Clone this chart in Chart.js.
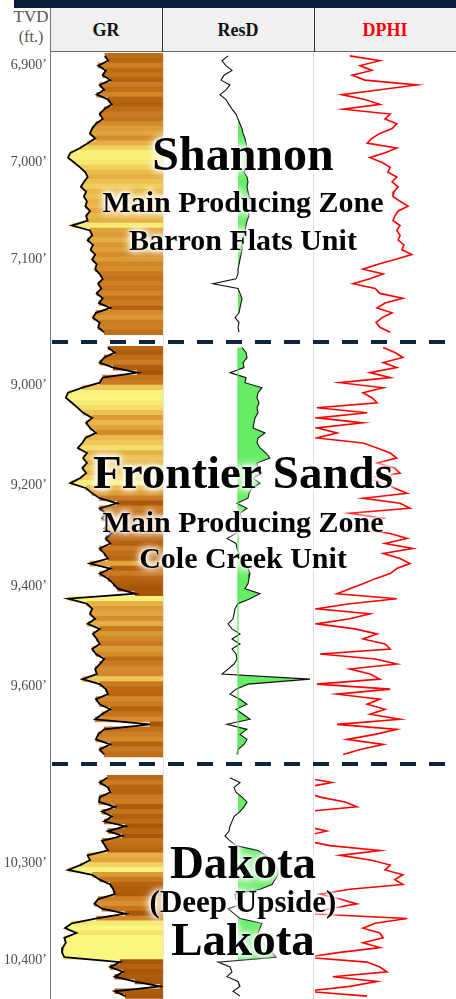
<!DOCTYPE html>
<html>
<head>
<meta charset="utf-8">
<title>Well log - Shannon / Frontier / Dakota</title>
<script src="https://cdn.jsdelivr.net/npm/chart.js@4.4.1/dist/chart.umd.min.js"></script>
<style>
  html, body { margin: 0; padding: 0; background: #fff; }
  #page { position: relative; width: 456px; height: 999px; overflow: hidden; font-family: "Liberation Serif", "Times New Roman", serif; }
  #page div { position: absolute; }
  canvas { position: absolute; display: block; z-index: 2; }
  .vline { z-index: 1; }
  .hcell { top: 8px; height: 43px; line-height: 45px; text-align: center; font-weight: bold; font-size: 18px; color: #111; }
  .dash { left: 52px; width: 404px; height: 4px; z-index: 4;
          background: repeating-linear-gradient(to right, #0e2542 0 16px, transparent 16px 29px); }
  .zone { left: 0; width: 486px; text-align: center; font-weight: bold; color: #050505; line-height: 1; white-space: nowrap; z-index: 5;
          text-shadow: 0 0 2px #fff, 0 0 4px #fff, 0 0 6px #fff, 0 0 9px #fff, 0 0 12px #fff; }
</style>
</head>
<body>
<div id="page">
  <div style="left:14px;top:0;width:442px;height:8px;background:#061c3a"></div>
  <div style="left:50px;top:8px;width:406px;height:43px;background:#f0f0f0;border-bottom:1.5px solid #6a6a6a"></div>
  <div style="left:0;top:7px;width:62px;text-align:center;font-size:17px;color:#555">TVD</div>
  <div style="left:0;top:28px;width:62px;text-align:center;font-size:16px;color:#555">(ft.)</div>
  <div class="hcell" style="left:50px;width:112px">GR</div>
  <div class="hcell" style="left:162px;width:152px">ResD</div>
  <div class="hcell" style="left:314px;width:142px;color:#ff0000">DPHI</div>
  <div style="left:162px;top:8px;width:1px;height:44px;background:#333"></div>
  <div style="left:314px;top:8px;width:1px;height:44px;background:#333"></div>

  <div class="vline" style="left:50px;top:8px;width:1px;height:991px;background:#6b7480"></div>
  <div class="vline" style="left:163px;top:52px;width:1px;height:947px;background:#e6e6e6"></div>
  <div class="vline" style="left:313px;top:52px;width:1px;height:947px;background:#dadada"></div>

  <div class="dash" style="top:340px"></div>
  <div class="dash" style="top:762px"></div>

  <div class="zone" style="top:130px;font-size:48px">Shannon</div>
  <div class="zone" style="top:187px;font-size:30px">Main Producing Zone</div>
  <div class="zone" style="top:225px;font-size:30px">Barron Flats Unit</div>
  <div class="zone" style="top:449px;font-size:47px">Frontier Sands</div>
  <div class="zone" style="top:507px;font-size:30px">Main Producing Zone</div>
  <div class="zone" style="top:543px;font-size:30px">Cole Creek Unit</div>
  <div class="zone" style="top:839px;font-size:47px">Dakota</div>
  <div class="zone" style="top:886px;font-size:31px">(Deep Upside)</div>
  <div class="zone" style="top:916px;font-size:47px">Lakota</div>
</div>

<script>
// ---- log data (one sample per step) ----

// Shannon, 6,890' - 7,175', 5 ft samples
const SHANNON_START = 6890;
const SHANNON_STEP = 5;
const SHANNON_TICKS = [6900, 7000, 7100];
const SHANNON_GR = [73, 77, 64, 74, 70, 80, 66, 72, 62, 77, 82, 72, 66, 70, 61, 56, 53, 60, 50, 40,
  27, 24, 32, 40, 47, 50, 45, 41, 48, 45, 49, 47, 53, 48, 50, 29, 53, 56, 50, 57,
  54, 60, 56, 62, 60, 66, 70, 64, 68, 62, 70, 65, 80, 61, 57, 66, 64, 72];
const SHANNON_RESD = [65, 59, 63, 69, 61, 58, 67, 63, 57, 63, 66, 69, 73, 75, 77, 79, 80, 82, 83, 84,
  83, 82, 82, 83, 81, 84, 85, 84, 85, 86, 87, 87, 85, 86, 84, 83, 82, 81, 80, 79,
  79, 78, 77, 76, 75, 75, 73, 50, 75, 77, 79, 78, 77, 76, 72, 76, 75, 76];
const SHANNON_DPHI = [0.226, 0.162, 0.204, 0.179, 0.221, 0.194, 0.083, 0.162, 0.243, 0.194,
  0.162, 0.240, 0.140, 0.151, 0.126, 0.136, 0.162, 0.179, 0.189, 0.126,
  0.151, 0.183, 0.157, 0.140, 0.145, 0.126, 0.136, 0.123, 0.132, 0.134,
  0.119, 0.102, 0.123, 0.130, 0.134, 0.119, 0.126, 0.119, 0.123, 0.111,
  0.115, 0.094, 0.130, 0.166, 0.198, 0.155, 0.183, 0.219, 0.172, 0.162,
  0.113, 0.151, 0.168, 0.136, 0.157, 0.170, 0.162, 0.140];

// Frontier Sands, 8,925' - 9,735', 10 ft samples
const FRONTIER_START = 8925;
const FRONTIER_STEP = 10;
const FRONTIER_TICKS = [9000, 9200, 9400, 9600];
const FRONTIER_GR = [77, 86, 72, 66, 84, 116, 70, 66, 43, 24, 21, 29, 37, 44, 56, 48, 53, 61, 47, 43,
  37, 49, 44, 49, 43, 48, 40, 27, 48, 56, 66, 89, 66, 74, 69, 80, 72, 82, 74, 80,
  66, 72, 77, 53, 80, 66, 77, 84, 90, 113, 24, 49, 56, 53, 60, 50, 66, 57, 62, 66,
  56, 61, 72, 66, 60, 62, 43, 66, 74, 77, 61, 66, 80, 69, 60, 133, 72, 64, 61, 80, 66, 72];
const FRONTIER_RESD = [79, 83, 84, 80, 81, 67, 83, 82, 99, 95, 94, 96, 94, 95, 92, 91, 90, 102, 95, 94,
  97, 103, 107, 94, 95, 99, 90, 97, 89, 86, 85, 74, 84, 77, 79, 76, 75, 73, 64, 73,
  74, 76, 79, 82, 85, 87, 86, 85, 82, 97, 87, 75, 72, 71, 70, 65, 69, 77, 69, 77,
  69, 73, 74, 71, 65, 59, 147, 85, 73, 67, 77, 84, 73, 80, 87, 64, 84, 77, 84, 81, 75, 74];
const FRONTIER_DPHI = [0.155, 0.130, 0.113, 0.155, 0.126, 0.183, 0.140, 0.247, 0.155, 0.198,
  0.179, 0.168, 0.296, 0.189, 0.296, 0.198, 0.296, 0.253, 0.296, 0.198,
  0.168, 0.140, 0.126, 0.168, 0.130, 0.119, 0.189, 0.151, 0.130, 0.104,
  0.198, 0.119, 0.098, 0.226, 0.155, 0.189, 0.211, 0.140, 0.104, 0.151,
  0.092, 0.155, 0.119, 0.098, 0.126, 0.140, 0.172, 0.198, 0.226, 0.253,
  0.126, 0.226, 0.296, 0.183, 0.226, 0.296, 0.215, 0.168, 0.198, 0.151,
  0.140, 0.289, 0.172, 0.126, 0.226, 0.183, 0.162, 0.296, 0.140, 0.253,
  0.162, 0.189, 0.151, 0.183, 0.119, 0.253, 0.126, 0.172, 0.232, 0.155, 0.204, 0.240];

// Dakota / Lakota, 10,212' - 10,437', 5 ft samples
const DAKOTA_START = 10212;
const DAKOTA_STEP = 5;
const DAKOTA_TICKS = [10300, 10400];
const DAKOTA_GR = [76, 66, 77, 80, 66, 65, 86, 69, 82, 72, 100, 77, 96, 69, 73, 77, 50, 53, 40, 24,
  56, 66, 80, 84, 86, 64, 59, 69, 100, 62, 29, 20, 35, 19, 21, 17, 16, 19, 93, 80,
  97, 86, 113, 146, 86, 100];
const DAKOTA_RESD = [67, 77, 71, 73, 79, 84, 81, 77, 71, 69, 67, 66, 62, 67, 73, 95, 103, 109, 113, 115,
  115, 112, 109, 97, 72, 73, 80, 65, 71, 77, 99, 97, 95, 94, 99, 105, 109, 113, 55, 67,
  69, 64, 75, 77, 70, 77];
const DAKOTA_DPHI = [0.32, 0.264, 0.32, 0.32, 0.289, 0.236, 0.211, 0.32, 0.32, 0.32,
  0.32, 0.275, 0.32, 0.32, 0.268, 0.162, 0.247, 0.179, 0.140, 0.151,
  0.113, 0.130, 0.113, 0.226, 0.289, 0.247, 0.211, 0.268, 0.32, 0.104,
  0.172, 0.198, 0.162, 0.155, 0.198, 0.162, 0.247, 0.32, 0.189, 0.162,
  0.147, 0.262, 0.168, 0.226, 0.32, 0.189];

// track scales
const GR_MAX = 150;
const RESD_MAX = 152;
const RESD_CUTOFF = 75;
const DPHI_MAX = 0.3;

// GR fill: yellow for clean sand, brown for shale
const GR_COLOR_STOPS = [
  [20, [250, 246, 128]],
  [35, [246, 228, 110]],
  [45, [236, 192, 80]],
  [55, [222, 158, 56]],
  [65, [204, 124, 34]],
  [75, [188, 104, 20]],
  [90, [168, 86, 10]]
];

function grColor(v) {
  const s = GR_COLOR_STOPS;
  if (v <= s[0][0]) return 'rgb(' + s[0][1].join(',') + ')';
  for (let i = 1; i < s.length; i++) {
    if (v <= s[i][0]) {
      const t = (v - s[i - 1][0]) / (s[i][0] - s[i - 1][0]);
      const c = s[i][1].map((c1, k) => Math.round(s[i - 1][1][k] + (c1 - s[i - 1][1][k]) * t));
      return 'rgb(' + c.join(',') + ')';
    }
  }
  return 'rgb(' + s[s.length - 1][1].join(',') + ')';
}

// page position of each depth window
const SECTIONS = [
  { top: 52, height: 286, min: 6886, max: 7181, start: SHANNON_START, step: SHANNON_STEP,
    ticks: SHANNON_TICKS, gr: SHANNON_GR, resd: SHANNON_RESD, dphi: SHANNON_DPHI, baseline: false },
  { top: 346, height: 412, min: 8922, max: 9742, start: FRONTIER_START, step: FRONTIER_STEP,
    ticks: FRONTIER_TICKS, gr: FRONTIER_GR, resd: FRONTIER_RESD, dphi: FRONTIER_DPHI, baseline: true },
  { top: 768, height: 231, min: 10202, max: 10440, start: DAKOTA_START, step: DAKOTA_STEP,
    ticks: DAKOTA_TICKS, gr: DAKOTA_GR, resd: DAKOTA_RESD, dphi: DAKOTA_DPHI, baseline: false }
];

Chart.defaults.font.family = '"Liberation Serif", "Times New Roman", serif';

function addCanvas(left, top, width, height) {
  const c = document.createElement('canvas');
  c.width = width;
  c.height = height;
  c.style.left = left + 'px';
  c.style.top = top + 'px';
  c.style.width = width + 'px';
  c.style.height = height + 'px';
  document.getElementById('page').appendChild(c);
  return c;
}

function baseOptions(sec, xScale, padding) {
  return {
    responsive: false,
    animation: false,
    devicePixelRatio: 1,
    indexAxis: 'y',
    events: [],
    layout: { padding: padding || 0, autoPadding: false },
    plugins: {
      legend: { display: false },
      tooltip: { enabled: false },
      filler: { drawTime: 'beforeDatasetsDraw' }
    },
    scales: {
      x: Object.assign({ type: 'linear', display: false, offset: false }, xScale),
      y: { type: 'linear', display: false, offset: false, reverse: true, min: sec.min, max: sec.max }
    }
  };
}

function curve(values, depths) {
  return values.map((v, i) => ({ x: v, y: depths[i] }));
}

// depth labels in the margin left of the GR track, placed with the depth scale
const depthLabels = {
  id: 'depthLabels',
  afterDraw(chart, args, opts) {
    const ctx = chart.ctx;
    const y = chart.scales.y;
    ctx.save();
    ctx.font = '14px "Liberation Serif", serif';
    ctx.fillStyle = '#4d4d4d';
    ctx.textAlign = 'right';
    ctx.textBaseline = 'middle';
    opts.ticks.forEach(v => {
      ctx.fillText(v.toLocaleString('en-US') + '\u2019', chart.chartArea.left - 3, y.getPixelForValue(v));
    });
    ctx.restore();
  }
};

// only keep the resistivity fill on the right of the cutoff
const cutoffClip = {
  id: 'cutoffClip',
  beforeDraw(chart) {
    const a = chart.chartArea;
    const x = chart.scales.x.getPixelForValue(RESD_CUTOFF);
    chart.ctx.save();
    chart.ctx.beginPath();
    chart.ctx.rect(x, a.top, a.right - x, a.bottom - a.top);
    chart.ctx.clip();
  },
  beforeDatasetsDraw(chart) {
    chart.ctx.restore();
  }
};

function drawSection(sec) {
  const depths = sec.gr.map((_, i) => sec.start + i * sec.step);

  // GR track with the depth labels
  const grOptions = baseOptions(sec, { min: 0, max: GR_MAX }, { left: 50 });
  grOptions.plugins.depthLabels = { ticks: sec.ticks };
  new Chart(addCanvas(0, sec.top, 163, sec.height), {
    type: 'bar',
    data: {
      datasets: [
        {
          type: 'bar',
          indexAxis: 'y',
          data: sec.gr.map((v, i) => ({ x: [v, GR_MAX], y: depths[i] })),
          backgroundColor: sec.gr.map(grColor),
          borderWidth: 0,
          barPercentage: 1,
          categoryPercentage: 1,
          order: 2
        },
        {
          type: 'line',
          indexAxis: 'y',
          data: curve(sec.gr, depths),
          borderColor: '#000',
          borderWidth: 1.8,
          pointRadius: 0,
          tension: 0,
          fill: false,
          order: 1
        }
      ]
    },
    options: grOptions,
    plugins: [depthLabels]
  });

  // ResD track
  const resdSets = [
    {
      data: curve(sec.resd, depths),
      borderWidth: 0,
      pointRadius: 0,
      backgroundColor: '#66ee66',
      fill: { value: RESD_CUTOFF }
    }
  ];
  if (sec.baseline) {
    resdSets.push({
      data: [{ x: RESD_CUTOFF, y: depths[0] }, { x: RESD_CUTOFF, y: depths[depths.length - 1] }],
      borderColor: '#5fe35f',
      borderWidth: 1.2,
      pointRadius: 0,
      fill: false
    });
  }
  resdSets.push({
    data: curve(sec.resd, depths),
    borderColor: '#111',
    borderWidth: 1.1,
    pointRadius: 0,
    tension: 0,
    fill: false
  });
  new Chart(addCanvas(163, sec.top, 152, sec.height), {
    type: 'line',
    data: { datasets: resdSets },
    options: baseOptions(sec, { min: 0, max: RESD_MAX }),
    plugins: [cutoffClip]
  });

  // DPHI track, porosity increasing to the left
  new Chart(addCanvas(315, sec.top, 141, sec.height), {
    type: 'line',
    data: {
      datasets: [{
        data: curve(sec.dphi, depths),
        borderColor: '#ff0000',
        borderWidth: 1.6,
        pointRadius: 0,
        tension: 0,
        fill: false
      }]
    },
    options: baseOptions(sec, { min: 0, max: DPHI_MAX, reverse: true })
  });
}

SECTIONS.forEach(drawSection);
</script>
</body>
</html>
